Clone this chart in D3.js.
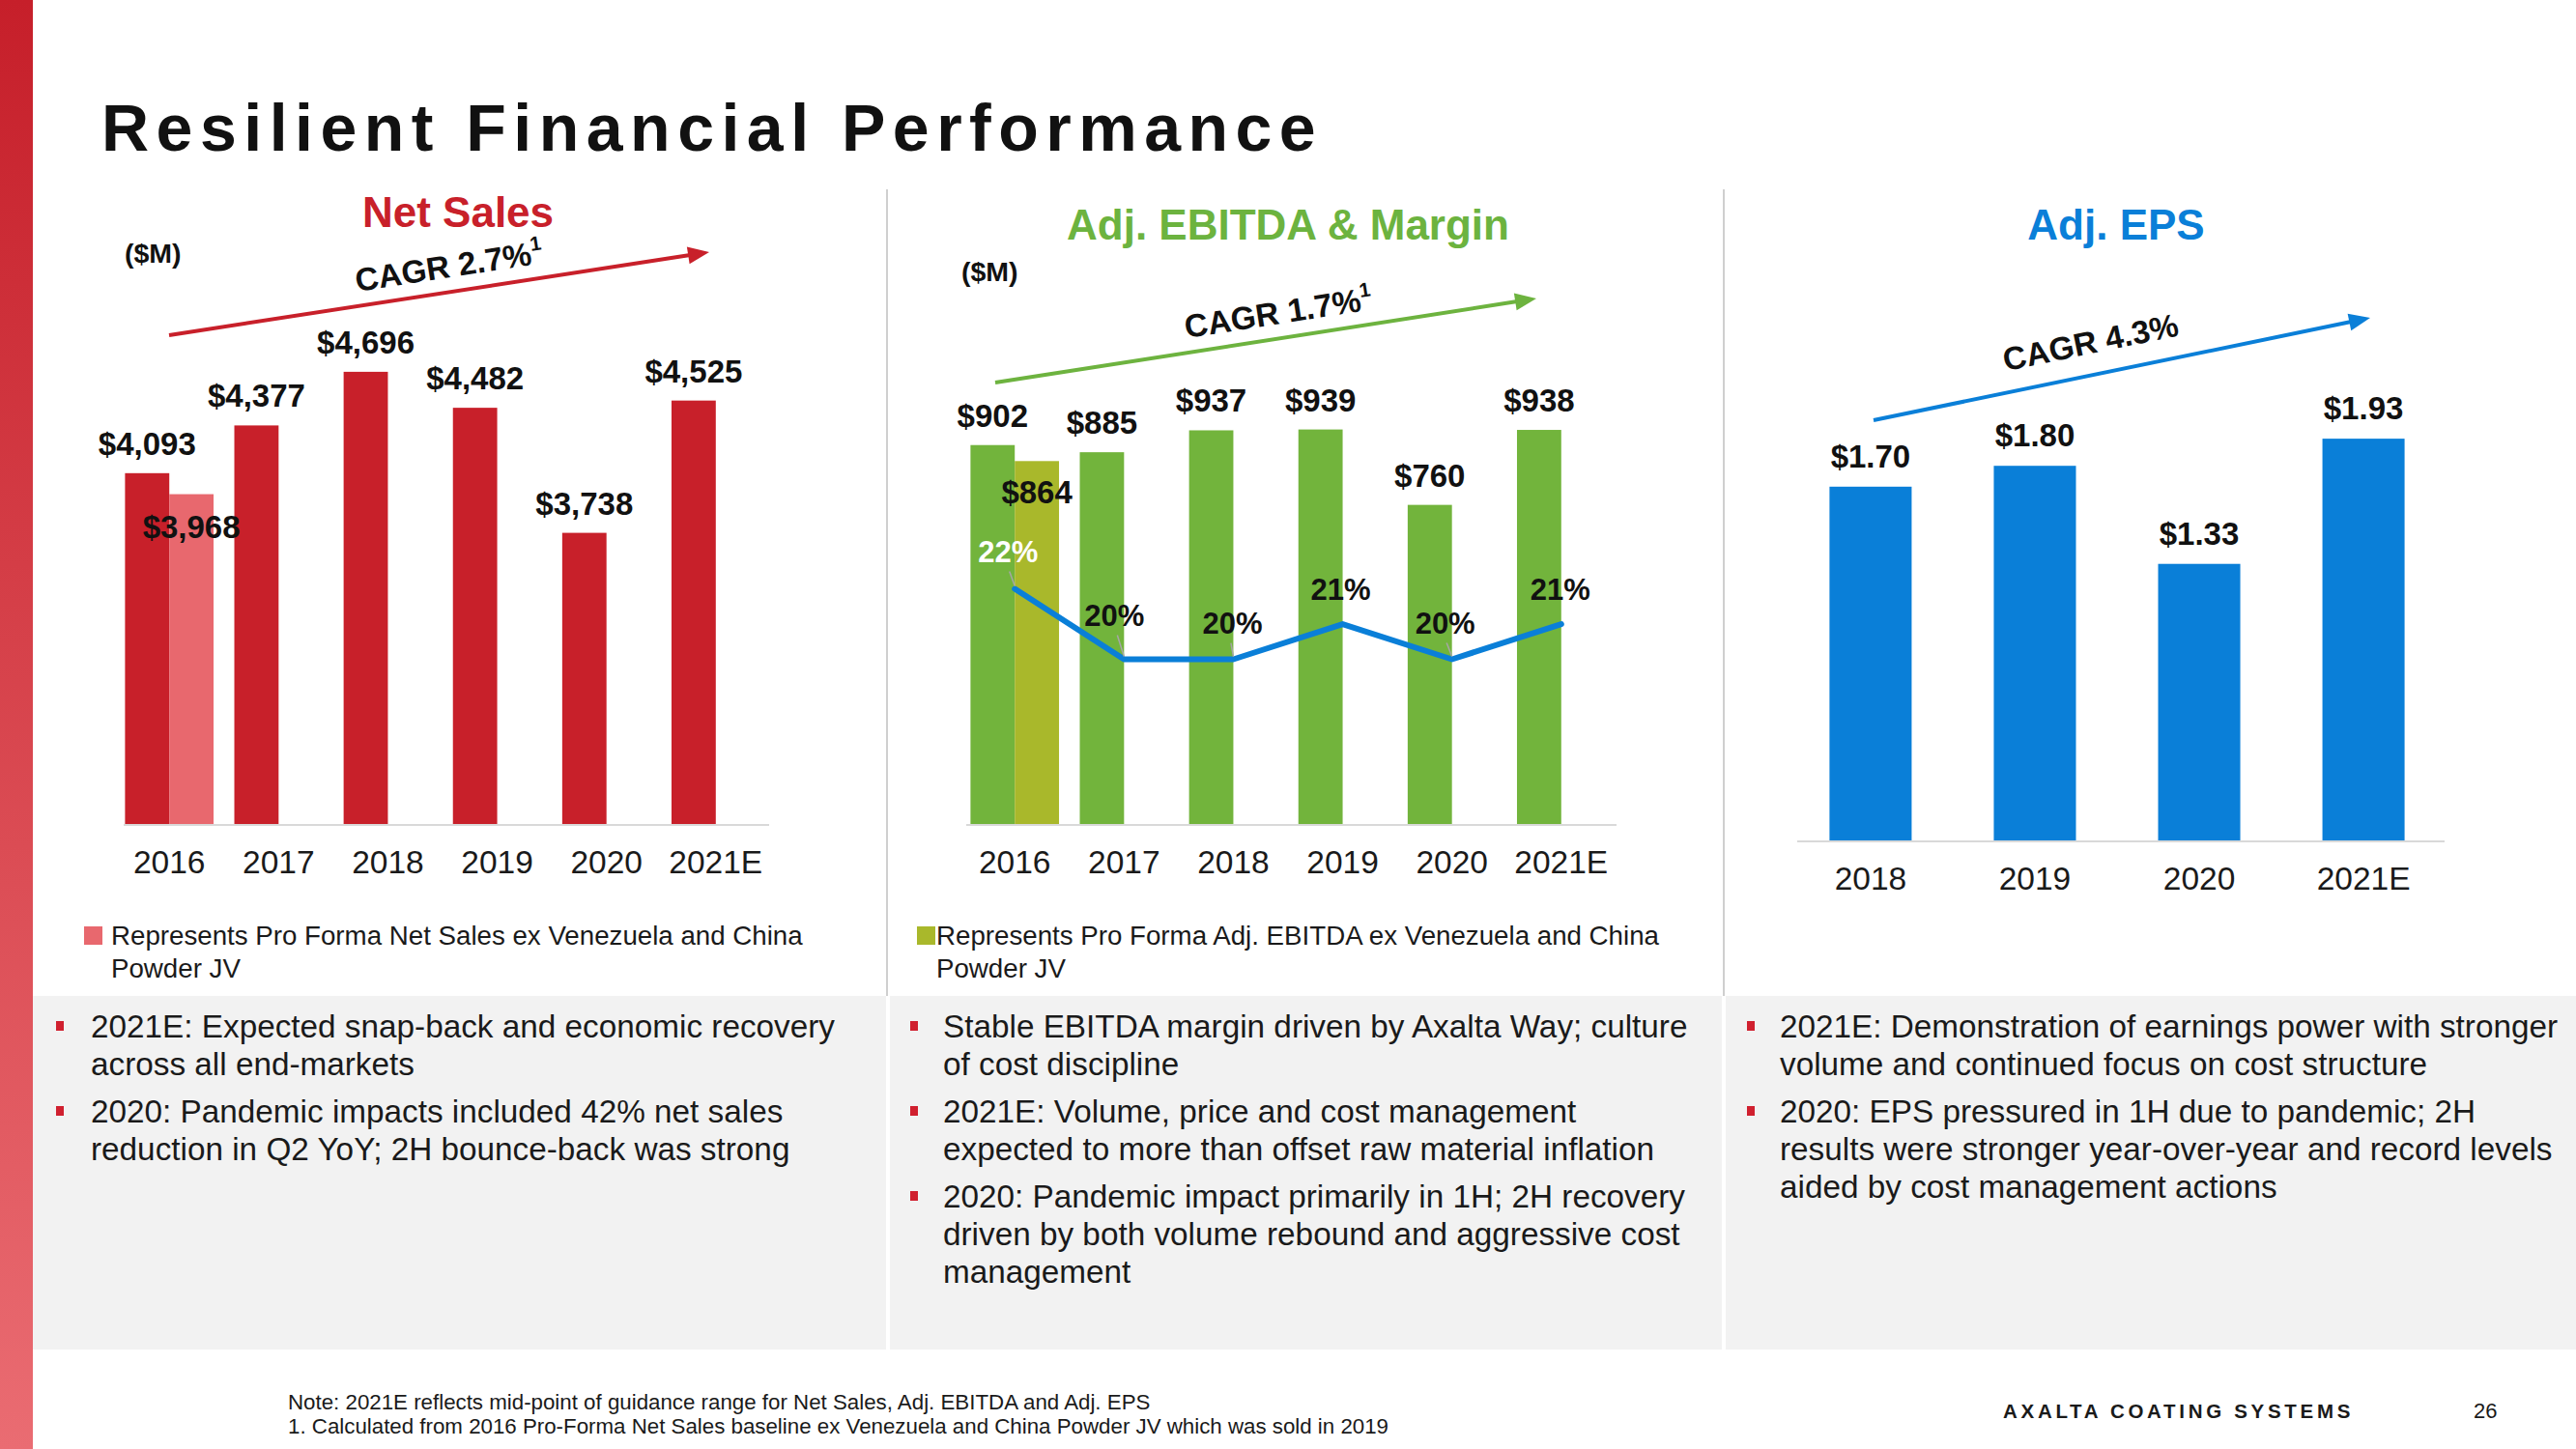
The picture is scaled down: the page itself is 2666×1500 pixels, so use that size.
<!DOCTYPE html>
<html><head><meta charset="utf-8">
<script src="https://cdn.jsdelivr.net/npm/d3@7"></script>
<style>
body{margin:0;background:#fff}
svg{display:block}
text{font-family:"Liberation Sans",Arial,Helvetica,sans-serif}
</style>
</head><body>
<svg id="c" width="2666" height="1500"></svg>
<script>
// ---------------- data ----------------
const years = ["2016","2017","2018","2019","2020","2021E"];
const netSales = [4093, 4377, 4696, 4482, 3738, 4525];
const netSalesProFormaYear = "2016";
const netSalesProForma = 3968;
const ebitda = [902, 885, 937, 939, 760, 938];
const ebitdaProFormaYear = "2016";
const ebitdaProForma = 864;
const ebitdaMargin = [22, 20, 20, 21, 20, 21];
const epsYears = ["2018","2019","2020","2021E"];
const eps = [1.70, 1.80, 1.33, 1.93];
const cagrText = ["CAGR 2.7%", "CAGR 1.7%", "CAGR 4.3%"];
const cagrNote = ["1", "1", ""];
const panelTitles = ["Net Sales", "Adj. EBITDA & Margin", "Adj. EPS"];
const legendTexts = [
  ["Represents Pro Forma Net Sales ex Venezuela and China", "Powder JV"],
  ["Represents Pro Forma Adj. EBITDA ex Venezuela and China", "Powder JV"]
];
const bullets1 = [
  ["2021E: Expected snap-back and economic recovery", "across all end-markets"],
  ["2020: Pandemic impacts included 42% net sales", "reduction in Q2 YoY; 2H bounce-back was strong"]
];
const bullets2 = [
  ["Stable EBITDA margin driven by Axalta Way; culture", "of cost discipline"],
  ["2021E: Volume, price and cost management", "expected to more than offset raw material inflation"],
  ["2020: Pandemic impact primarily in 1H; 2H recovery", "driven by both volume rebound and aggressive cost", "management"]
];
const bullets3 = [
  ["2021E: Demonstration of earnings power with stronger", "volume and continued focus on cost structure"],
  ["2020: EPS pressured in 1H due to pandemic; 2H", "results were stronger year-over-year and record levels", "aided by cost management actions"]
];
const footnotes = [
  "Note: 2021E reflects mid-point of guidance range for Net Sales, Adj. EBITDA and Adj. EPS",
  "1. Calculated from 2016 Pro-Forma Net Sales baseline ex Venezuela and China Powder JV which was sold in 2019"
];

// ---------------- style ----------------
const RED = "#c8202a", RED_L = "#e8686e";
const GREEN = "#72b43c", OLIVE = "#a9b82b";
const BLUE = "#0a7fd8";
const INK = "#111111";

const svg = d3.select("#c");
const defs = svg.append("defs");
const grad = defs.append("linearGradient").attr("id","stripe").attr("x1",0).attr("y1",0).attr("x2",0).attr("y2",1);
grad.append("stop").attr("offset","0%").attr("stop-color","#c61f2a");
grad.append("stop").attr("offset","100%").attr("stop-color","#ea6c72");

svg.append("rect").attr("x",0).attr("y",0).attr("width",2666).attr("height",1500).attr("fill","#fff");
svg.append("rect").attr("x",0).attr("y",0).attr("width",34).attr("height",1500).attr("fill","url(#stripe)");

// Title
svg.append("text").attr("x",105).attr("y",156)
  .attr("font-size",68).attr("font-weight","bold").attr("letter-spacing",7.5)
  .attr("fill",INK).text("Resilient Financial Performance");

// gray bullet boxes
const boxes = [[34,917],[921,1782],[1786,2666]];
boxes.forEach(b=>svg.append("rect").attr("x",b[0]).attr("y",1031).attr("width",b[1]-b[0]).attr("height",366).attr("fill","#f2f2f2"));

// separators
[918, 1784].forEach(x=>svg.append("line").attr("x1",x).attr("x2",x).attr("y1",196).attr("y2",1031)
  .attr("stroke","#bfbfbf").attr("stroke-width",1.5));

// helpers
function arrow(x1,y1,x2,y2,color,label,sup,t,off,fs){
  const a = Math.atan2(y2-y1,x2-x1);
  const c = Math.cos(a), s = Math.sin(a);
  const hl = 22, hw = 9;
  const bx = x2 - hl*c, by = y2 - hl*s;
  svg.append("line").attr("x1",x1).attr("y1",y1).attr("x2",bx+2*c).attr("y2",by+2*s)
    .attr("stroke",color).attr("stroke-width",4);
  svg.append("path").attr("d",`M${x2},${y2}L${bx - hw*s},${by + hw*c}L${bx + hw*s},${by - hw*c}Z`).attr("fill",color);
  const px = x1 + t*(x2-x1) + off*s, py = y1 + t*(y2-y1) - off*c;
  const tx = svg.append("text").attr("transform",`translate(${px},${py}) rotate(${a*180/Math.PI})`)
    .attr("text-anchor","middle").attr("font-size",fs).attr("font-weight","bold").attr("fill",INK);
  tx.append("tspan").text(label);
  if(sup) tx.append("tspan").attr("font-size",fs*0.62).attr("dy",-fs*0.42).text(sup);
}

function yearAxis(y0, labelY, xa, xb, centerFn, cats){
  svg.append("line").attr("x1",xa).attr("x2",xb).attr("y1",y0).attr("y2",y0)
    .attr("stroke","#d9d9d9").attr("stroke-width",2);
  svg.append("g").selectAll("text").data(cats).join("text")
    .attr("x",d=>centerFn(d)).attr("y",labelY).attr("text-anchor","middle")
    .attr("font-size",33.5).attr("fill","#1a1a1a").text(d=>d);
}

// ---------------- Panel 1: Net Sales ----------------
{
  const x0 = d3.scaleBand().domain(years).range([126,790]).paddingInner(0.19).paddingOuter(0.03);
  const x1 = d3.scaleBand().domain(["main","pro"]).range([0,x0.bandwidth()]);
  const y = d3.scaleLinear().domain([2000,5000]).range([854,332]);
  const fmt = d3.format("$,");
  svg.append("text").attr("x",474).attr("y",235).attr("text-anchor","middle").attr("font-size",44)
    .attr("font-weight","bold").attr("fill",RED).text(panelTitles[0]);
  svg.append("text").attr("x",129).attr("y",272).attr("font-size",28.5).attr("font-weight","bold").attr("fill",INK).text("($M)");
  const data = years.map((yr,i)=>({yr, v:netSales[i]}));
  const g = svg.append("g");
  g.selectAll("rect.m").data(data).join("rect")
    .attr("x",d=>x0(d.yr)+x1("main")).attr("width",x1.bandwidth())
    .attr("y",d=>y(d.v)).attr("height",d=>y(2000)-y(d.v)).attr("fill",RED);
  g.append("rect").attr("x",x0(netSalesProFormaYear)+x1("pro")).attr("width",x1.bandwidth())
    .attr("y",y(netSalesProForma)).attr("height",y(2000)-y(netSalesProForma)).attr("fill",RED_L);
  yearAxis(854, 904, 128, 796, d=>x0(d)+x0.bandwidth()/2, years);
  g.selectAll("text.v").data(data).join("text")
    .attr("x",d=>x0(d.yr)+x1("main")+x1.bandwidth()/2).attr("y",d=>y(d.v)-19)
    .attr("text-anchor","middle").attr("font-size",33).attr("font-weight","bold").attr("fill",INK).text(d=>fmt(d.v));
  g.append("text").attr("x",x0(netSalesProFormaYear)+x1("pro")+x1.bandwidth()/2).attr("y",y(netSalesProForma)+45)
    .attr("text-anchor","middle").attr("font-size",33).attr("font-weight","bold").attr("fill",INK).text(fmt(netSalesProForma));
  arrow(175,347,734,261,RED,cagrText[0],cagrNote[0],0.525,15,33.5);
}

// ---------------- Panel 2: Adj. EBITDA & Margin ----------------
{
  const x0 = d3.scaleBand().domain(years).range([1001,1665]).paddingInner(0.19).paddingOuter(0.03);
  const x1 = d3.scaleBand().domain(["main","pro"]).range([0,x0.bandwidth()]);
  const y = d3.scaleLinear().domain([0,1000]).range([854,418]);
  const ym = d3.scaleLinear().domain([15.3,27.25]).range([854,418]);
  const fmt = d3.format("$,");
  svg.append("text").attr("x",1333).attr("y",248).attr("text-anchor","middle").attr("font-size",44)
    .attr("font-weight","bold").attr("fill","#6cb33f").text(panelTitles[1]);
  svg.append("text").attr("x",995).attr("y",291).attr("font-size",28.5).attr("font-weight","bold").attr("fill",INK).text("($M)");
  const data = years.map((yr,i)=>({yr, v:ebitda[i], m:ebitdaMargin[i]}));
  const g = svg.append("g");
  g.selectAll("rect.m").data(data).join("rect")
    .attr("x",d=>x0(d.yr)+x1("main")).attr("width",x1.bandwidth())
    .attr("y",d=>y(d.v)).attr("height",d=>y(0)-y(d.v)).attr("fill",GREEN);
  g.append("rect").attr("x",x0(ebitdaProFormaYear)+x1("pro")).attr("width",x1.bandwidth())
    .attr("y",y(ebitdaProForma)).attr("height",y(0)-y(ebitdaProForma)).attr("fill",OLIVE);
  yearAxis(854, 904, 1000, 1673, d=>x0(d)+x0.bandwidth()/2, years);
  g.selectAll("text.v").data(data).join("text")
    .attr("x",d=>x0(d.yr)+x1("main")+x1.bandwidth()/2).attr("y",d=>y(d.v)-19)
    .attr("text-anchor","middle").attr("font-size",33).attr("font-weight","bold").attr("fill",INK).text(d=>fmt(d.v));
  g.append("text").attr("x",x0(ebitdaProFormaYear)+x1("pro")+x1.bandwidth()/2).attr("y",y(ebitdaProForma)+44)
    .attr("text-anchor","middle").attr("font-size",33).attr("font-weight","bold").attr("fill",INK).text(fmt(ebitdaProForma));
  // margin line
  const cx = d=>x0(d.yr)+x0.bandwidth()/2;
  const line = d3.line().x(cx).y(d=>ym(d.m));
  g.append("path").datum(data).attr("d",line).attr("fill","none").attr("stroke",BLUE)
    .attr("stroke-width",6).attr("stroke-linejoin","round").attr("stroke-linecap","round");
  const ldx = [-7,-10,-1,-2,-7,-1], ldy = [-28,-35,-27,-25,-27,-25];
  const leader = [true,true,true,false,true,false];
  data.forEach((d,i)=>{
    if(leader[i]) g.append("line").attr("x1",cx(d)+ldx[i]*0.5-2).attr("y1",ym(d.m)+ldy[i]+10)
      .attr("x2",cx(d)).attr("y2",ym(d.m)-3).attr("stroke","#a6a6a6").attr("stroke-width",1.5);
  });
  g.selectAll("text.mg").data(data).join("text")
    .attr("x",(d,i)=>cx(d)+ldx[i]).attr("y",(d,i)=>ym(d.m)+ldy[i])
    .attr("text-anchor","middle").attr("font-size",31).attr("font-weight","bold")
    .attr("fill",(d,i)=>i===0?"#ffffff":INK).text(d=>d.m+"%");
  arrow(1030,396,1590,309,"#6db33f",cagrText[1],cagrNote[1],0.53,15,33.5);
}

// ---------------- Panel 3: Adj. EPS ----------------
{
  const x = d3.scaleBand().domain(epsYears).range([1856,2526]).paddingInner(0.5).paddingOuter(0.22);
  const y = d3.scaleLinear().domain([0,2]).range([871,439]);
  const fmt = d3.format("$.2f");
  svg.append("text").attr("x",2190).attr("y",248).attr("text-anchor","middle").attr("font-size",44)
    .attr("font-weight","bold").attr("fill",BLUE).text(panelTitles[2]);
  const data = epsYears.map((yr,i)=>({yr, v:eps[i]}));
  const g = svg.append("g");
  g.selectAll("rect").data(data).join("rect")
    .attr("x",d=>x(d.yr)).attr("width",x.bandwidth())
    .attr("y",d=>y(d.v)).attr("height",d=>y(0)-y(d.v)).attr("fill",BLUE);
  yearAxis(871, 921, 1860, 2530, d=>x(d)+x.bandwidth()/2, epsYears);
  g.selectAll("text.v").data(data).join("text")
    .attr("x",d=>x(d.yr)+x.bandwidth()/2).attr("y",d=>y(d.v)-20)
    .attr("text-anchor","middle").attr("font-size",33).attr("font-weight","bold").attr("fill",INK).text(d=>fmt(d.v));
  arrow(1939,435,2453,329,BLUE,cagrText[2],cagrNote[2],0.45,22,33.5);
}

// ---------------- legends ----------------
const legendDefs = [{x:87, tx:115, color:RED_L},{x:949, tx:969, color:OLIVE}];
legendDefs.forEach((L,i)=>{
  svg.append("rect").attr("x",L.x).attr("y",959).attr("width",19).attr("height",19).attr("fill",L.color);
  legendTexts[i].forEach((t,j)=>svg.append("text").attr("x",L.tx).attr("y",978+j*34)
    .attr("font-size",27.7).attr("fill","#1a1a1a").text(t));
});

// ---------------- bullets ----------------
function bulletCol(items, bx, tx){
  let yb = 1074;
  items.forEach(lines=>{
    svg.append("rect").attr("x",bx).attr("y",yb-17).attr("width",8).attr("height",10).attr("fill","#d0202f");
    lines.forEach(l=>{
      svg.append("text").attr("x",tx).attr("y",yb).attr("font-size",33.3).attr("fill","#1a1a1a").text(l);
      yb += 39;
    });
    yb += 10;
  });
}
bulletCol(bullets1, 58, 94);
bulletCol(bullets2, 942, 976);
bulletCol(bullets3, 1808, 1842);

// ---------------- footer ----------------
footnotes.forEach((t,i)=>svg.append("text").attr("x",298).attr("y",1459+i*25)
  .attr("font-size",22.3).attr("fill","#1a1a1a").text(t));
svg.append("text").attr("x",2073).attr("y",1468).attr("font-size",20.5).attr("font-weight","bold")
  .attr("letter-spacing",3.7).attr("fill","#1a1a1a").text("AXALTA COATING SYSTEMS");
svg.append("text").attr("x",2560).attr("y",1468).attr("font-size",22).attr("fill","#1a1a1a").text("26");
</script>
</body></html>
